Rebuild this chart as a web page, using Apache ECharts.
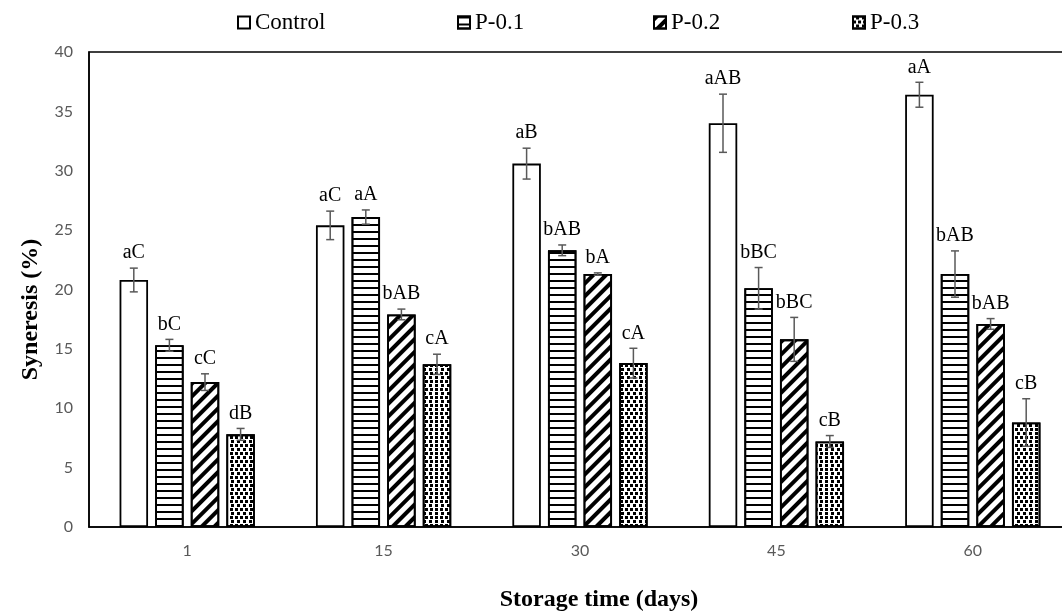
<!DOCTYPE html>
<html>
<head>
<meta charset="utf-8">
<script src="https://cdn.jsdelivr.net/npm/echarts@6/dist/echarts.min.js"></script>
<style>html,body{margin:0;padding:0;background:#fff;}#c{width:1062px;height:613px;}</style>
</head>
<body>
<div id="c"></div>
<script>
const categories = ['1', '15', '30', '45', '60'];
const seriesNames = ['Control', 'P-0.1', 'P-0.2', 'P-0.3'];
const control = [20.8, 25.4, 30.6, 34.0, 36.4];
const controlErr = [1.0, 1.2, 1.3, 2.45, 1.05];
const p01 = [15.3, 26.1, 23.3, 20.1, 21.3];
const p01Err = [0.5, 0.6, 0.45, 1.75, 1.95];
const p02 = [12.2, 17.9, 21.3, 15.8, 17.1];
const p02Err = [0.7, 0.45, 0.1, 1.85, 0.45];
const p03 = [7.8, 13.7, 13.8, 7.2, 8.8];
const p03Err = [0.5, 0.85, 1.25, 0.5, 2.0];
const controlLetters = ['aC', 'aC', 'aB', 'aAB', 'aA'];
const p01Letters = ['bC', 'aA', 'bAB', 'bBC', 'bAB'];
const p02Letters = ['cC', 'bAB', 'bA', 'bBC', 'bAB'];
const p03Letters = ['dB', 'cA', 'cA', 'cB', 'cB'];
const yTicks = [0, 5, 10, 15, 20, 25, 30, 35, 40];

const values = [control, p01, p02, p03];
const errs = [controlErr, p01Err, p02Err, p03Err];
const letters = [controlLetters, p01Letters, p02Letters, p03Letters];

const BW = 0.145, GAP = 0.25;
const decals = [
  null,
  { symbol: 'rect', color: '#000', dashArrayX: [1, 0], dashArrayY: [1.6, 4.6], rotation: 0 },
  { symbol: 'rect', color: '#000', dashArrayX: [1, 0], dashArrayY: [3.5, 4.5], rotation: -Math.PI / 4 },
  { symbol: 'rect', color: '#000', symbolSize: 1, dashArrayX: [[2.4, 2], [0, 2.2, 2.4, 0]], dashArrayY: [2.2, 1], rotation: 0 }
];

const series = [];
seriesNames.forEach((name, i) => {
  const is = { color: '#fff', borderColor: '#000', borderWidth: 1.8 };
  if (decals[i]) is.decal = decals[i];
  series.push({
    name: name, type: 'bar', data: values[i],
    barWidth: (BW * 100) + '%', barGap: (GAP * 100) + '%',
    itemStyle: is, emphasis: { disabled: true }, silent: true
  });
});
seriesNames.forEach((name, i) => {
  series.push({
    type: 'custom', silent: true, z: 10,
    data: values[i].map((v, k) => [k, v, errs[i][k]]),
    renderItem: function (params, api) {
      const k = api.value(0), v = api.value(1), e = api.value(2);
      const bandW = api.size([1, 0])[0];
      const bw = bandW * BW;
      const off = (i - 1.5) * bw * (1 + GAP);
      const top = api.coord([k, v + e]);
      const bot = api.coord([k, v - e]);
      const x = top[0] + off;
      const cap = 4;
      const st = { stroke: '#595959', lineWidth: 1.5 };
      return {
        type: 'group',
        children: [
          { type: 'line', shape: { x1: x, y1: top[1], x2: x, y2: bot[1] }, style: st },
          { type: 'line', shape: { x1: x - cap, y1: top[1], x2: x + cap, y2: top[1] }, style: st },
          { type: 'line', shape: { x1: x - cap, y1: bot[1], x2: x + cap, y2: bot[1] }, style: st },
          { type: 'text', style: { text: letters[i][k], x: x, y: top[1] - 5, textAlign: 'center', textVerticalAlign: 'bottom', fill: '#000', font: '20px "Liberation Serif"' } }
        ]
      };
    }
  });
});

const legendLefts = [232, 452, 648, 847];
const legends = seriesNames.map((n, i) => ({
  data: [{ name: n, icon: 'rect' }], left: legendLefts[i], top: 6, itemWidth: 12, itemHeight: 12, itemGap: 4,
  textStyle: { fontFamily: 'Liberation Serif', fontSize: 23, color: '#000' },
  selectedMode: false
}));

const chart = echarts.init(document.getElementById('c'), null, { renderer: 'canvas' });
chart.setOption({
  animation: false,
  backgroundColor: '#fff',
  legend: legends,
  grid: { left: 89, right: -9, top: 52, bottom: 86, outerBoundsMode: 'none', containLabel: false, show: true, borderColor: '#000', borderWidth: 1.5, backgroundColor: 'transparent' },
  xAxis: {
    type: 'category', data: categories,
    axisLine: { lineStyle: { color: '#000', width: 1.5 } },
    axisTick: { show: false },
    axisLabel: { color: '#595959', fontFamily: 'Lato', fontSize: 16, margin: 16 },
    name: 'Storage time (days)', nameLocation: 'middle', nameGap: 61,
    nameTextStyle: { fontFamily: 'Liberation Serif', fontWeight: 'bold', fontSize: 24, color: '#000', padding: [0, 0, 0, 38] }
  },
  yAxis: {
    type: 'value', min: yTicks[0], max: yTicks[yTicks.length - 1], interval: yTicks[1] - yTicks[0],
    axisLine: { show: true, lineStyle: { color: '#000', width: 1.5 } },
    axisTick: { show: false },
    splitLine: { show: false },
    axisLabel: { color: '#595959', fontFamily: 'Lato', fontSize: 16, margin: 16 },
    name: 'Syneresis (%)', nameLocation: 'middle', nameGap: 46, nameRotate: 90,
    nameTextStyle: { fontFamily: 'Liberation Serif', fontWeight: 'bold', fontSize: 24, color: '#000', padding: [0, 40, 0, 0] }
  },
  series: series
});
</script>
</body>
</html>
